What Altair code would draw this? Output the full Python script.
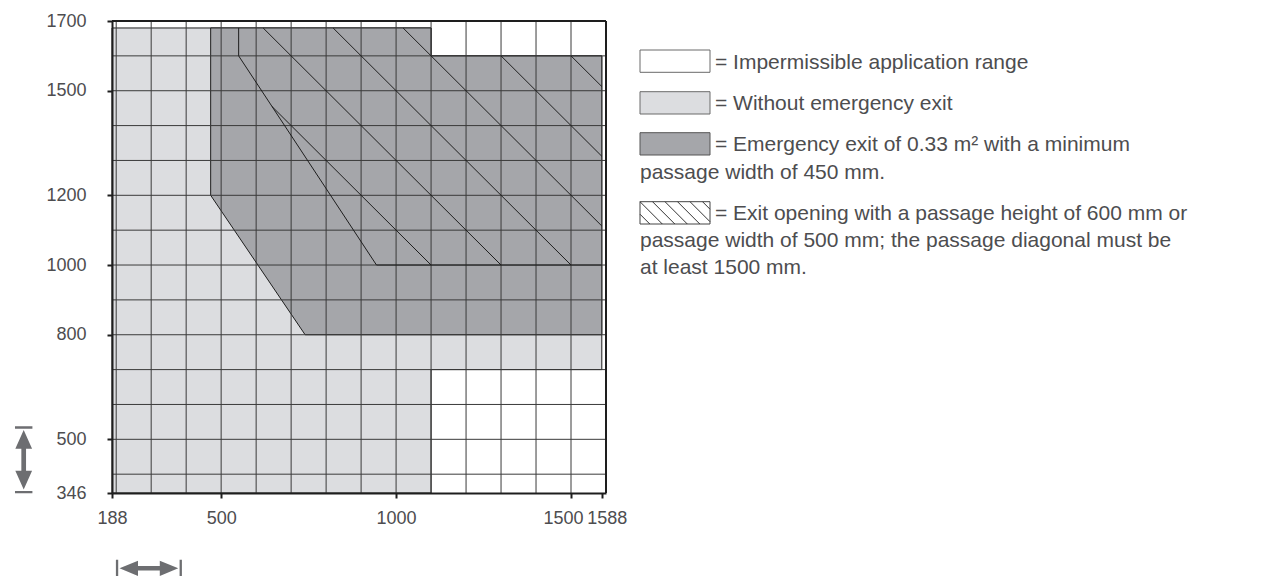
import altair as alt
import pandas as pd

# ---------------- data ----------------
x_min, x_max = 188, 1600
y_min, y_max = 346, 1700
x_ticks = [188, 500, 1000, 1500, 1588]
y_ticks = [346, 500, 800, 1000, 1200, 1500, 1700]
x_grid = [200, 300, 400, 500, 600, 700, 800, 900, 1000, 1100, 1200, 1300, 1400, 1500]
y_grid = [400, 500, 600, 700, 800, 900, 1000, 1100, 1200, 1300, 1400, 1500, 1600]

# "Without emergency exit" region (light grey)
light_x = [188, 1100, 1100, 1588]
light_top = [1680, 1680, 1600, 1600]
light_bottom = [346, 346, 700, 700]

# "Emergency exit" region (dark grey)
dark_x = [470, 740, 1100, 1100, 1588]
dark_top = [1680, 1680, 1680, 1600, 1600]
dark_bottom = [1200, 800, 800, 800, 800]

# outline of the hatched region
edge_x1 = [550, 550, 944]
edge_y1 = [1680, 1600, 1000]
edge_x2 = [550, 944, 1588]
edge_y2 = [1600, 1000, 1000]

# hatch lines
hatch_x1 = [645, 620, 820, 1020, 1300, 1500]
hatch_y1 = [1455, 1680, 1680, 1680, 1600, 1600]
hatch_x2 = [1100, 1300, 1500, 1588, 1588, 1588]
hatch_y2 = [1000, 1000, 1000, 1112, 1312, 1512]

legend_lines = [
    "= Impermissible application range",
    "= Without emergency exit",
    "= Emergency exit of 0.33 m\u00b2 with a minimum",
    "passage width of 450 mm.",
    "= Exit opening with a passage height of 600 mm or",
    "passage width of 500 mm; the passage diagonal must be",
    "at least 1500 mm.",
]

# ---------------- style / layout ----------------
FONT = "Liberation Sans"
TXT = "#4d4d4f"
LIGHT = "#dcdde0"
DARK = "#a5a6aa"
LINE = "#1e1e1e"
GRID = "#3a3a3a"
ARROW = "#6d6e71"
W, H = 494, 472
PAD = {"left": 104, "top": 13, "right": 660, "bottom": 83}

xs = alt.Scale(domain=[x_min, x_max], nice=False, zero=False)
ys = alt.Scale(domain=[y_min, y_max], nice=False, zero=False)

x_axis = alt.Axis(
    values=x_ticks, title=None, grid=False, format="d",
    labelOverlap=False, labelFlush=False,
    labelFont=FONT, labelFontSize=18, labelColor=TXT, labelPadding=11,
    labelOffset={"condition": [{"test": "datum.value == 1500", "value": -8},
                               {"test": "datum.value == 1588", "value": 5}],
                 "value": 0},
    tickColor=LINE, tickSize=5, tickWidth=2, domainColor=LINE, domainWidth=2, zindex=1,
)
y_axis = alt.Axis(
    values=y_ticks, title=None, grid=False, format="d",
    labelOverlap=False, labelFlush=False,
    labelFont=FONT, labelFontSize=18, labelColor=TXT, labelPadding=21,
    tickColor=LINE, tickSize=5, tickWidth=2, domainColor=LINE, domainWidth=2, zindex=1,
)

one = pd.DataFrame({"k": [0]})

light_df = pd.DataFrame({"x": light_x, "y": light_top, "y2": light_bottom})
dark_df = pd.DataFrame({"x": dark_x, "y": dark_top, "y2": dark_bottom})


def region(df, fill):
    return alt.Chart(df).mark_area(fill=fill, stroke=LINE, strokeWidth=1, opacity=1,
                                   interpolate="linear").encode(
        x=alt.X("x:Q", scale=xs, axis=x_axis),
        y=alt.Y("y:Q", scale=ys, axis=y_axis),
        y2="y2:Q",
    )


light = region(light_df, LIGHT)
dark = region(dark_df, DARK)

grid_rows = [{"x": g, "x2": g, "y": y_min, "y2": y_max} for g in x_grid] + \
            [{"x": x_min, "x2": x_max, "y": g, "y2": g} for g in y_grid]
grid_df = pd.DataFrame(grid_rows)


def segs(df, color, width):
    return alt.Chart(df).mark_rule(color=color, strokeWidth=width).encode(
        x=alt.X("x:Q", scale=xs, axis=x_axis), x2="x2:Q",
        y=alt.Y("y:Q", scale=ys, axis=y_axis), y2="y2:Q",
    )


grid = segs(grid_df, GRID, 1)
edges = segs(pd.DataFrame({"x": edge_x1, "y": edge_y1, "x2": edge_x2, "y2": edge_y2}), LINE, 1)
hatch = segs(pd.DataFrame({"x": hatch_x1, "y": hatch_y1, "x2": hatch_x2, "y2": hatch_y2}), LINE, 1)
frame = segs(pd.DataFrame({"x": [x_min, x_max], "y": [y_max, y_min],
                           "x2": [x_max, x_max], "y2": [y_max, y_max]}), LINE, 2)

# ---------------- double arrows (decoration, pixel positions) ----------------
V_ARROW = ("M-0.26,-1L0.26,-1L0.26,-0.93L-0.26,-0.93Z "
           "M0,-0.89L0.25,-0.33L0.07,-0.33L0.07,0.33L0.25,0.33L0,0.89L-0.25,0.33L-0.07,0.33L-0.07,-0.33L-0.25,-0.33Z "
           "M-0.26,0.93L0.26,0.93L0.26,1L-0.26,1Z")
H_ARROW = ("M-1,-0.26L-1,0.26L-0.93,0.26L-0.93,-0.26Z "
           "M-0.89,0L-0.33,0.23L-0.33,0.07L0.33,0.07L0.33,0.23L0.89,0L0.33,-0.23L0.33,-0.07L-0.33,-0.07L-0.33,-0.23Z "
           "M0.93,-0.26L0.93,0.26L1,0.26L1,-0.26Z")

arrows = [
    alt.Chart(one).mark_point(shape=V_ARROW, size=67 * 67, filled=True, fill=ARROW, strokeWidth=0, opacity=1)
    .encode(x=alt.value(-88.3), y=alt.value(438.8)),
    alt.Chart(one).mark_point(shape=H_ARROW, size=66 * 66, filled=True, fill=ARROW, strokeWidth=0, opacity=1)
    .encode(x=alt.value(36.9), y=alt.value(547.3)),
]

# ---------------- legend (pixel layout) ----------------
SW_X0, SW_X1, SW_H = 528, 598, 22.3
sw_top = [29, 70.7, 111.7, 180.7]
sw_fill = ["#ffffff", LIGHT, DARK, "#ffffff"]
sw_stroke = ["#6a6a6a", "#6a6a6a", "#555555", "#444444"]
legend_layers = []
for t, f, s in zip(sw_top, sw_fill, sw_stroke):
    legend_layers.append(
        alt.Chart(one).mark_rect(fill=f, stroke=s, strokeWidth=1).encode(
            x=alt.value(SW_X0), x2=alt.value(SW_X1), y=alt.value(t), y2=alt.value(t + SW_H)))

# hatch swatch lines
top4, bot4 = sw_top[3], sw_top[3] + SW_H
for k in range(-1, 6):
    sx = SW_X0 + 12.5 * k
    ax, ay = sx, top4
    if ax < SW_X0:
        ay = top4 + (SW_X0 - ax)
        ax = SW_X0
    bx, by = sx + SW_H, bot4
    if bx > SW_X1:
        by = bot4 - (bx - SW_X1)
        bx = SW_X1
    legend_layers.append(
        alt.Chart(one).mark_rule(color="#333333", strokeWidth=1).encode(
            x=alt.value(ax), y=alt.value(ay), x2=alt.value(bx), y2=alt.value(by)))

line_x = [603, 603, 603, 528, 603, 528, 528]
line_y = [48, 89.4, 130.4, 157.5, 199.4, 226.2, 253]
for txt, lx, ly in zip(legend_lines, line_x, line_y):
    legend_layers.append(
        alt.Chart(one).mark_text(align="left", baseline="alphabetic", font=FONT, fontSize=21, color=TXT)
        .encode(x=alt.value(lx), y=alt.value(ly), text=alt.value(txt)))

chart = alt.layer(light, dark, grid, edges, hatch, frame, *arrows, *legend_layers).properties(
    width=W, height=H,
    autosize=alt.AutoSizeParams(type="none"),
    padding=PAD,
).configure_view(stroke=None)

chart.save("out.html", embed_options={"renderer": "svg", "actions": False})
